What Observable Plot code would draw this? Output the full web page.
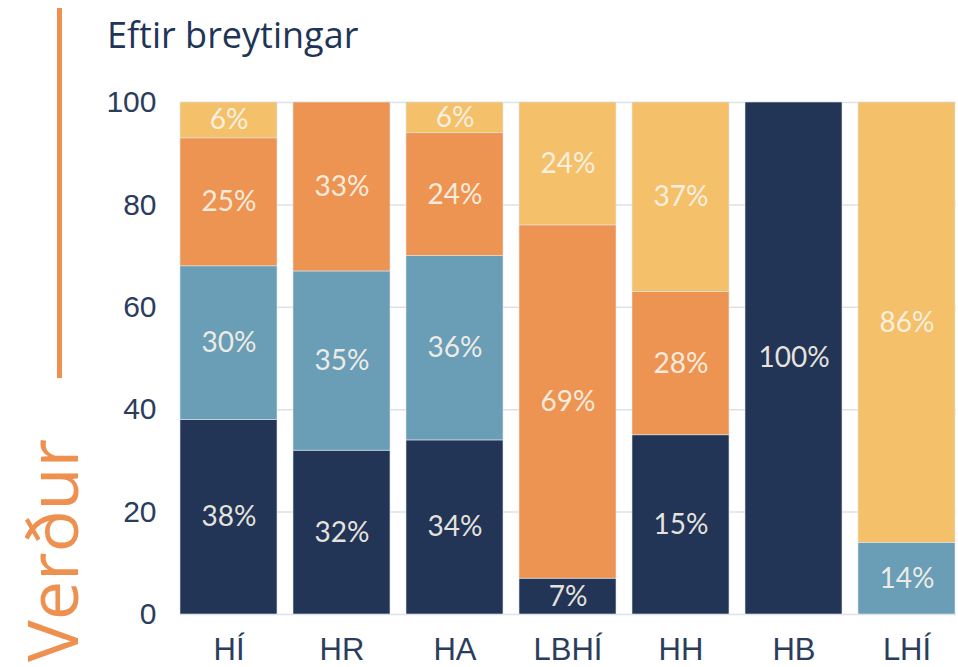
<!DOCTYPE html>
<html>
<head>
<meta charset="utf-8">
<script src="https://cdn.jsdelivr.net/npm/d3@7"></script>
<script src="https://cdn.jsdelivr.net/npm/@observablehq/plot@0.6"></script>
<style>
  html, body { margin: 0; padding: 0; background: #fff; }
  #wrap { position: relative; width: 958px; height: 667px; overflow: hidden; }
  #chart, #over { position: absolute; left: 0; top: 0; }
</style>
</head>
<body>
<div id="wrap">
  <div id="chart"></div>
  <svg id="over" width="958" height="667">
    <rect x="57" y="8" width="5" height="370" fill="#ee9150"></rect>
    <text x="107" y="48" font-family="Open Sans, sans-serif" font-size="36" fill="#1f3557">Eftir breytingar</text>
    <text transform="translate(78,662) rotate(-90)" font-family="Open Sans, sans-serif" font-size="70" fill="#ee9150">Verður</text>
  </svg>
</div>
<script>
const categories = ["HÍ", "HR", "HA", "LBHÍ", "HH", "HB", "LHÍ"];
const seriesNames = ["s1", "s2", "s3", "s4"];
const navyValues   = [38, 32, 34, 7, 35, 100, 0];
const blueValues   = [30, 35, 36, 0, 0, 0, 14];
const orangeValues = [25, 33, 24, 69, 28, 0, 0];
const yellowValues = [7, 0, 6, 24, 37, 0, 86];
const navyLabels   = ["38%", "32%", "34%", "7%", "15%", "100%", ""];
const blueLabels   = ["30%", "35%", "36%", "", "", "", "14%"];
const orangeLabels = ["25%", "33%", "24%", "69%", "28%", "", ""];
const yellowLabels = ["6%", "", "6%", "24%", "37%", "", "86%"];
const yTicks = [0, 20, 40, 60, 80, 100];
const colors = ["#223557", "#6a9db6", "#ee9452", "#f4c16a"];

const valueSets = [navyValues, blueValues, orangeValues, yellowValues];
const labelSets = [navyLabels, blueLabels, orangeLabels, yellowLabels];
const rows = [];
categories.forEach((c, i) => {
  seriesNames.forEach((s, j) => {
    rows.push({cat: c, series: s, value: valueSets[j][i], label: labelSets[j][i]});
  });
});

const chart = Plot.plot({
  width: 958,
  height: 667,
  marginTop: 102,
  marginBottom: 53,
  marginLeft: 180,
  marginRight: 2,
  style: {fontFamily: "Liberation Sans, Arial, sans-serif", background: "transparent"},
  x: {domain: categories, paddingInner: 0.14, paddingOuter: 0, label: null},
  y: {domain: [0, 100], label: null},
  color: {domain: seriesNames, range: colors},
  marks: [
    Plot.ruleY(yTicks, {stroke: "#dde2ea", strokeWidth: 1.5}),
    Plot.barY(rows, Plot.stackY({x: "cat", y: "value", z: "series", fill: "series", order: null, inset: 0, stroke: "#dfe3ea", strokeWidth: 0.6})),
    Plot.text(rows, Plot.stackY({filter: d => d.label !== "", x: "cat", y: "value", z: "series", order: null, text: "label", fill: "#fbf4ea", fillOpacity: 0.92, fontSize: 28, fontFamily: "Lato, Open Sans, sans-serif"})),
    Plot.axisY({ticks: yTicks, tickSize: 0, tickPadding: 24, fontSize: 30, fill: "#2b3d5d", label: null}),
    Plot.axisX({tickSize: 0, tickPadding: 23, fontSize: 31, fill: "#2b3d5d", label: null})
  ]
});
document.getElementById("chart").appendChild(chart);
</script>
</body>
</html>
